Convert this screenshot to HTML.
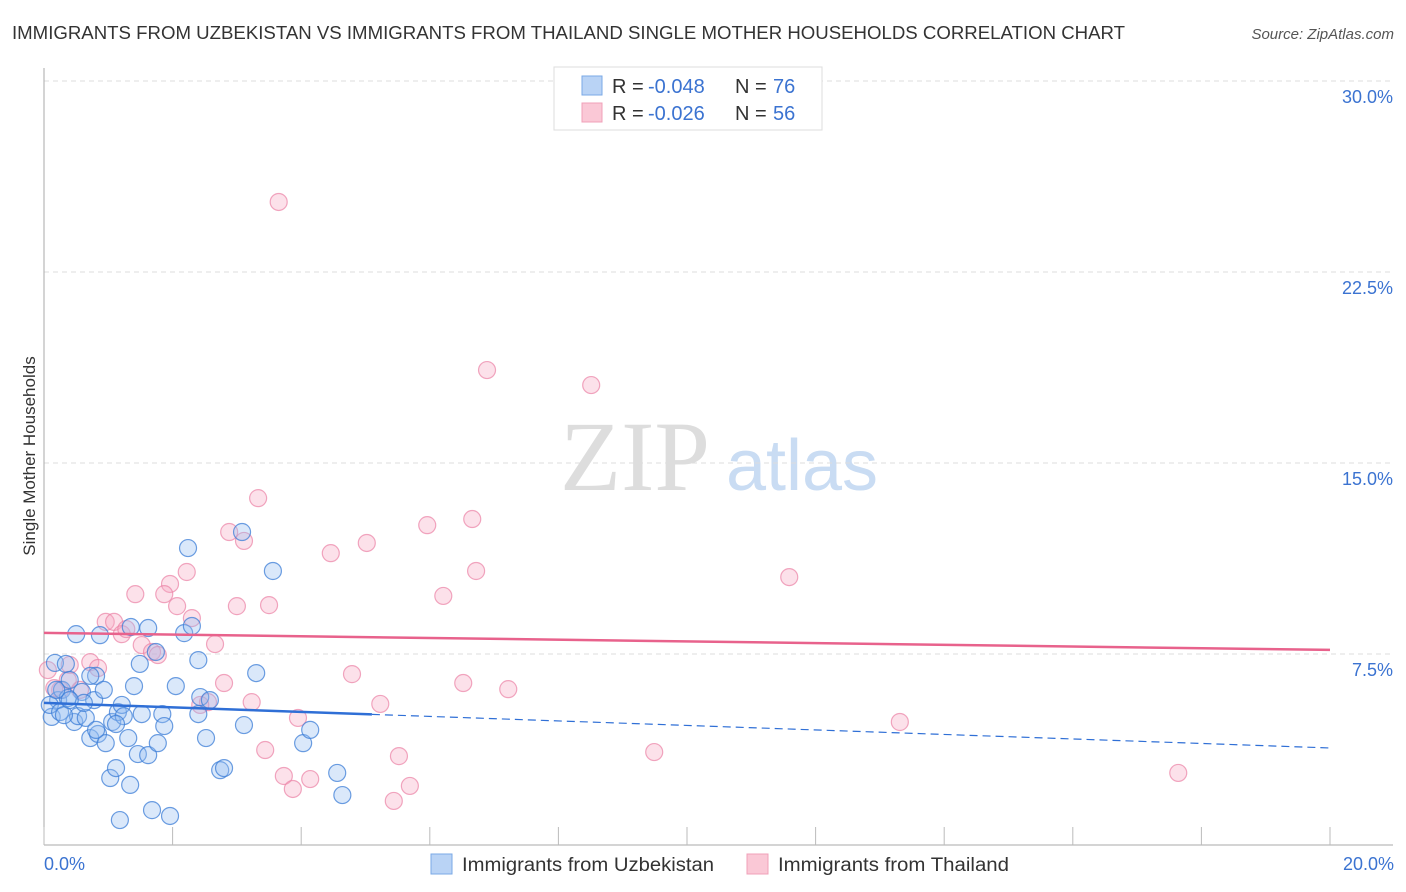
<!DOCTYPE html>
<html><head><meta charset="utf-8"><style>
body{margin:0;background:#fff;font-family:"Liberation Sans",sans-serif;}
svg{display:block}
</style></head><body>
<svg id="c" width="1406" height="892" viewBox="0 0 1406 892">
<text x="12" y="39" font-size="18" fill="#333" textLength="1113" lengthAdjust="spacingAndGlyphs">IMMIGRANTS FROM UZBEKISTAN VS IMMIGRANTS FROM THAILAND SINGLE MOTHER HOUSEHOLDS CORRELATION CHART</text>
<text x="1394" y="39" font-size="15" fill="#555" text-anchor="end" font-style="italic">Source: ZipAtlas.com</text>
<text x="35" y="456" font-size="17" fill="#333" text-anchor="middle" transform="rotate(-90 35 456)">Single Mother Households</text>
<g>
<text x="635" y="490" font-size="100" fill="#ddd" font-family="Liberation Serif,serif" text-anchor="middle">ZIP</text>
<text x="802" y="490" font-size="72" fill="#c9dcf3" text-anchor="middle">atlas</text>
</g>
<g id="grid"></g><g id="axes"></g><g id="pts"></g><g id="trend"></g>
<g>
<rect x="554" y="67" width="268" height="63" fill="#fff" stroke="#ddd"/>
<rect x="582" y="76" width="20" height="19" fill="#b9d3f5" stroke="#7aa8e6"/>
<rect x="582" y="103" width="20" height="19" fill="#fac8d6" stroke="#f0a0b8"/>
<text x="612" y="93" font-size="20" fill="#333">R = <tspan x="648" fill="#3b73d1">-0.048</tspan><tspan x="735">N = </tspan><tspan x="773" fill="#3b73d1">76</tspan></text>
<text x="612" y="120" font-size="20" fill="#333">R = <tspan x="648" fill="#3b73d1">-0.026</tspan><tspan x="735">N = </tspan><tspan x="773" fill="#3b73d1">56</tspan></text>
</g>
<g>
<rect x="431" y="854" width="21" height="20" fill="#b9d3f5" stroke="#7aa8e6"/>
<text x="462" y="871" font-size="19" fill="#333" textLength="252" lengthAdjust="spacingAndGlyphs">Immigrants from Uzbekistan</text>
<rect x="747" y="854" width="21" height="20" fill="#fac8d6" stroke="#f0a0b8"/>
<text x="778" y="871" font-size="19" fill="#333" textLength="231" lengthAdjust="spacingAndGlyphs">Immigrants from Thailand</text>
</g>
</svg>
<script>
const yTicks=[7.5,15,22.5,30];
const yTickLabels=["7.5%","15.0%","22.5%","30.0%"];
const xTicks=[0,2,4,6,8,10,12,14,16,18,20];
const xEndLabels=["0.0%","20.0%"];
const uzX=[0.12,0.17,0.22,0.28,0.34,0.40,0.47,0.50,0.53,0.59,0.65,0.72,0.78,0.81,0.84,0.87,0.93,0.96,1.03,1.06,1.12,1.15,1.18,1.21,1.24,1.31,1.34,1.35,1.40,1.46,1.49,1.52,1.62,1.62,1.68,1.74,1.77,1.84,1.87,1.96,2.05,2.18,2.24,2.30,2.40,2.40,2.43,2.52,2.58,2.74,2.80,3.08,3.11,3.30,3.56,4.03,4.14,4.56,4.64,0.09,0.25,0.37,0.62,1.12,0.72,0.31,0.40,0.81,0.19];
const uzY=[5.03,7.15,5.69,6.09,7.11,6.48,4.83,8.28,5.06,6.01,4.99,4.20,5.69,6.64,4.36,8.24,6.09,4.00,2.63,4.83,3.02,5.22,0.98,5.50,5.06,4.20,2.36,8.56,6.24,3.57,7.11,5.14,8.52,3.53,1.37,7.58,4.00,5.14,4.67,1.14,6.24,8.32,11.66,8.60,7.26,5.14,5.81,4.20,5.69,2.94,3.02,12.29,4.71,6.75,10.76,4.00,4.52,2.83,1.96,5.50,5.22,5.77,5.58,4.75,6.64,5.10,5.69,4.52,6.09];
const thX=[3.65,6.89,8.51,3.33,6.66,2.88,3.11,5.02,4.46,5.96,6.72,6.21,11.59,2.22,1.96,1.87,1.42,2.07,3.00,3.50,2.30,0.96,1.09,1.21,1.28,1.52,1.68,1.77,2.66,0.72,0.84,0.40,2.80,4.79,6.52,7.22,2.55,3.23,5.23,3.95,13.31,3.44,9.49,5.52,3.73,4.14,3.87,5.69,5.44,17.64,0.06,0.25,0.37,0.16,0.56,2.43];
const thY=[25.25,18.65,18.06,13.62,12.80,12.29,11.94,11.86,11.46,12.56,10.76,9.78,10.52,10.72,10.25,9.85,9.85,9.38,9.38,9.42,8.91,8.76,8.76,8.28,8.48,7.85,7.58,7.46,7.89,7.18,6.95,7.07,6.36,6.71,6.36,6.12,5.61,5.61,5.54,4.99,4.83,3.73,3.65,3.49,2.71,2.59,2.20,2.32,1.73,2.83,6.87,6.09,6.48,6.16,6.09,5.50];
const uzTrend=[5.58,3.81];
const thTrend=[8.33,7.66];
const uzSolidEnd=5.1;

const NS="http://www.w3.org/2000/svg";
const X=v=>44+v/20*1286;
const Y=v=>845-v/30*764;
function mk(tag,attrs,parent){const e=document.createElementNS(NS,tag);for(const k in attrs)e.setAttribute(k,attrs[k]);document.getElementById(parent).appendChild(e);return e;}
yTicks.forEach((t,i)=>{
 const l=mk('line',{x1:44,x2:1393,y1:Y(t),y2:Y(t),stroke:'#ddd','stroke-dasharray':'5,4'},'grid');
 
 
 const tx=mk('text',{x:1393,y:Y(t)+22,'font-size':18,fill:'#3b73d1','text-anchor':'end'},'grid');
 tx.textContent=yTickLabels[i];
 
 
});
const ya=mk('line',{x1:44,x2:44,y1:68,y2:845,stroke:'#aaa'},'axes');


const xa=mk('line',{x1:44,x2:1393,y1:845,y2:845,stroke:'#aaa'},'axes');


xTicks.forEach(t=>{
 const l=mk('line',{x1:X(t),x2:X(t),y1:827,y2:845,stroke:'#bbb'},'axes');
 
 
});
[[0,'start',44],[20,'end',1394]].forEach((d,i)=>{
 const tx=mk('text',{x:d[2],y:870,'font-size':18,fill:'#3b73d1','text-anchor':d[1]},'axes');
 tx.textContent=xEndLabels[i];
 
 
});
thX.forEach((v,i)=>{
 const c=mk('circle',{cx:X(v),cy:Y(thY[i]),r:8.5,fill:'rgba(246,170,195,0.35)',stroke:'rgba(235,130,165,0.7)','stroke-width':1.2},'pts');
 
 
});
uzX.forEach((v,i)=>{
 const c=mk('circle',{cx:X(v),cy:Y(uzY[i]),r:8.5,fill:'rgba(150,190,240,0.35)',stroke:'rgba(60,125,215,0.75)','stroke-width':1.2},'pts');
 
 
});
const tp=mk('line',{x1:X(0),x2:X(20),y1:Y(thTrend[0]),y2:Y(thTrend[1]),stroke:'#e8628c','stroke-width':2.5},'trend');


const uAt=x=>uzTrend[0]+(uzTrend[1]-uzTrend[0])*x/20;
const ts=mk('line',{x1:X(0),x2:X(uzSolidEnd),y1:Y(uAt(0)),y2:Y(uAt(uzSolidEnd)),stroke:'#2f6fd6','stroke-width':2.5},'trend');


const td=mk('line',{x1:X(uzSolidEnd),x2:X(20),y1:Y(uAt(uzSolidEnd)),y2:Y(uAt(20)),stroke:'#2f6fd6','stroke-width':1.2,'stroke-dasharray':'8,5'},'trend');


</script>
</body></html>
